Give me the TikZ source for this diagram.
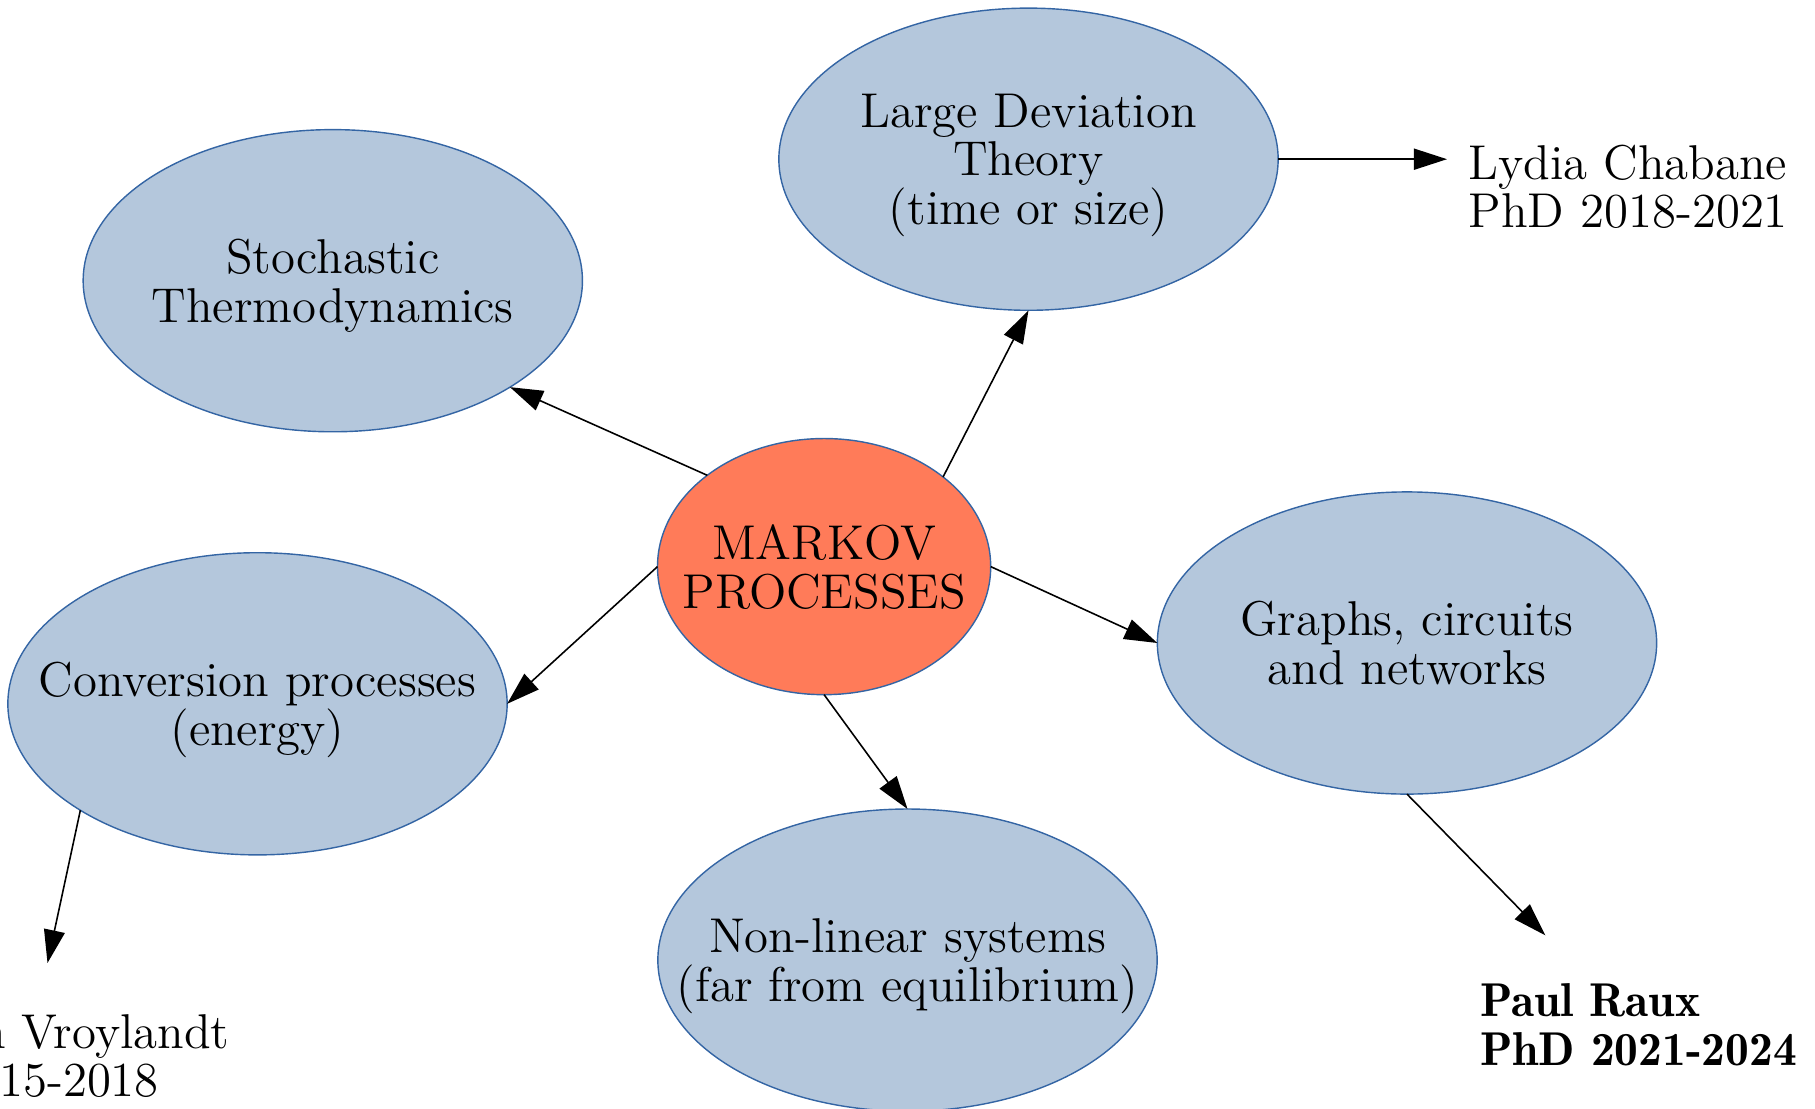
\documentclass[tikz,border=0pt]{standalone}
\usetikzlibrary{shapes.geometric,arrows.meta}
\definecolor{topicfill}{HTML}{B4C7DC}
\definecolor{corefill}{HTML}{FF7B59}
\definecolor{edgeblue}{HTML}{3465A4}
\begin{document}
\begin{tikzpicture}[x=0.01cm,y=-0.01cm,
  every node/.style={font=\fontsize{13.9}{13.8}\selectfont},
  topic/.style={ellipse,draw=edgeblue,line width=0.4pt,fill=topicfill,minimum width=4.99cm,minimum height=3.02cm,inner xsep=-1cm,inner ysep=0pt,outer sep=0pt,align=center,text depth=0pt},
  core/.style={ellipse,draw=edgeblue,line width=0.4pt,fill=corefill,minimum width=3.33cm,minimum height=2.56cm,inner xsep=-0.5cm,inner ysep=0pt,outer sep=0pt,align=center,text depth=0pt},
  person/.style={align=left,inner sep=0pt,anchor=west},
  link/.style={-{Triangle[length=3.3mm,width=2.1mm]},line width=0.45pt,black}
]
\useasboundingbox (0,0) rectangle (1815,1109);
\node[topic] (stoch) at (332.8,280.7) {Stochastic\\Thermodynamics};
\node[topic] (ld) at (1028.5,159.2) {Large Deviation\\Theory\\(time or size)};
\node[core] (markov) at (824.1,566.6) {MARKOV\\PROCESSES};
\node[topic] (graphs) at (1407,643) {Graphs, circuits\\and networks};
\node[topic] (conv) at (257.5,703.8) {Conversion processes\\(energy)};
\node[topic] (nl) at (907.5,960.1) {Non-linear systems\\(far from equilibrium)};
\node[person,inner xsep=0.21cm] (lydia) at (1447,187) {Lydia Chabane\\PhD 2018-2021};
\node[person,font=\fontsize{13.5}{13.8}\selectfont\fontseries{b}\selectfont] (paul) at (1479.3,1025) {Paul Raux\\PhD 2021-2024};
\node[person] (hadrien) at (-161,1056) {Hadrien Vroylandt\\PhD 2015-2018};
\coordinate (paulend) at (1545.3,935.3);
\coordinate (hadend) at (47.5,963);
\draw[link] (markov.142.1) -- (stoch.-31.3);
\draw[link] (markov.37.7) -- (ld.south);
\draw[link] (ld.east) -- (ld.east -| lydia.west);
\draw[link] (markov.east) -- (graphs.west);
\draw[link] (graphs.south) -- (paulend);
\draw[link] (markov.west) -- (conv.east);
\draw[link] (markov.south) -- (nl.north);
\draw[link] (conv.211.1) -- (hadend);
\end{tikzpicture}
\end{document}
